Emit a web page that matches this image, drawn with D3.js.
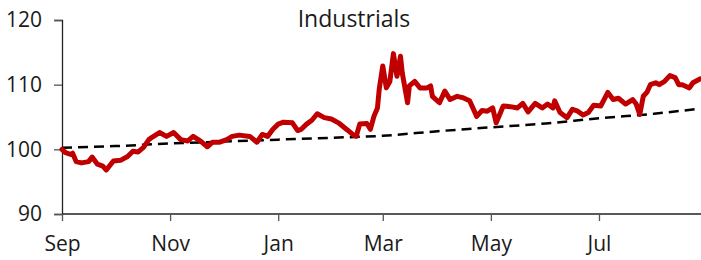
<!DOCTYPE html>
<html>
<head>
<meta charset="utf-8">
<script src="https://cdn.jsdelivr.net/npm/d3@7"></script>
<style>
  body { margin: 0; background: #fff; }
  svg text { font-family: "Open Sans", sans-serif; fill: #1a1a1a; }
</style>
</head>
<body>
<svg width="701" height="260"></svg>
<script>
let svg = d3.select("svg");
let width = +svg.attr("width");
let height = +svg.attr("height");

const title = "Industrials";
const yTicks = [90, 100, 110, 120];
const xTickDates = ["2021-09-01", "2021-11-01", "2022-01-01", "2022-03-01", "2022-05-01", "2022-07-01"];

// red series: sector index
const sectorDates = [
  "2021-09-01", "2021-09-03", "2021-09-06", "2021-09-07", "2021-09-09", "2021-09-12", "2021-09-16", "2021-09-18",
  "2021-09-21", "2021-09-24", "2021-09-26", "2021-09-30", "2021-10-04", "2021-10-08", "2021-10-11", "2021-10-14",
  "2021-10-17", "2021-10-20", "2021-10-22", "2021-10-26", "2021-10-30", "2021-11-03", "2021-11-07", "2021-11-11",
  "2021-11-14", "2021-11-18", "2021-11-22", "2021-11-25", "2021-11-29", "2021-12-03", "2021-12-06", "2021-12-10",
  "2021-12-16", "2021-12-20", "2021-12-23", "2021-12-26", "2021-12-29", "2022-01-01", "2022-01-04", "2022-01-09",
  "2022-01-12", "2022-01-14", "2022-01-17", "2022-01-20", "2022-01-23", "2022-01-27", "2022-01-31", "2022-02-04",
  "2022-02-09", "2022-02-12", "2022-02-14", "2022-02-16", "2022-02-20", "2022-02-22", "2022-02-24", "2022-02-26",
  "2022-02-27", "2022-03-01", "2022-03-03", "2022-03-05", "2022-03-07", "2022-03-09", "2022-03-11", "2022-03-12",
  "2022-03-15", "2022-03-16", "2022-03-19", "2022-03-22", "2022-03-26", "2022-03-28", "2022-03-29", "2022-04-02",
  "2022-04-05", "2022-04-08", "2022-04-12", "2022-04-15", "2022-04-19", "2022-04-23", "2022-04-26", "2022-04-29",
  "2022-05-02", "2022-05-04", "2022-05-08", "2022-05-12", "2022-05-16", "2022-05-19", "2022-05-22", "2022-05-26",
  "2022-05-30", "2022-06-02", "2022-06-05", "2022-06-06", "2022-06-09", "2022-06-13", "2022-06-16", "2022-06-19",
  "2022-06-22", "2022-06-25", "2022-06-28", "2022-07-02", "2022-07-06", "2022-07-09", "2022-07-12", "2022-07-16",
  "2022-07-20", "2022-07-22", "2022-07-24", "2022-07-26", "2022-07-28", "2022-07-30", "2022-08-02", "2022-08-04",
  "2022-08-07", "2022-08-10", "2022-08-13", "2022-08-15", "2022-08-17", "2022-08-21", "2022-08-23", "2022-08-27"
];
const sectorValues = [
  100.0, 99.5, 99.2, 99.4, 98.1, 97.9, 98.1, 98.8,
  97.7, 97.4, 96.8, 98.2, 98.3, 98.9, 99.7, 99.6,
  100.3, 101.5, 101.9, 102.6, 102.0, 102.6, 101.5, 101.3,
  102.0, 101.3, 100.4, 101.1, 101.1, 101.5, 102.0, 102.2,
  102.0, 101.1, 102.3, 102.0, 103.1, 103.9, 104.2, 104.1,
  102.9, 103.1, 103.9, 104.5, 105.5, 104.9, 104.7, 104.1,
  103.0, 102.3, 102.0, 103.9, 104.0, 103.1, 105.1, 106.4,
  109.3, 112.9, 109.5, 110.5, 114.8, 111.3, 114.4, 111.8,
  107.2, 109.8, 110.5, 109.5, 109.5, 109.8, 108.2, 107.2,
  109.0, 107.7, 108.2, 108.0, 107.5, 105.1, 106.0, 105.9,
  106.4, 104.1, 106.7, 106.6, 106.4, 107.1, 105.8, 107.1,
  106.4, 107.0, 106.4, 107.5, 105.7, 104.9, 106.2, 105.9,
  105.3, 105.7, 106.8, 106.7, 108.8, 107.7, 107.9, 107.0,
  107.7, 107.0, 105.4, 108.2, 108.8, 110.0, 110.3, 110.0,
  110.5, 111.4, 111.1, 110.0, 110.0, 109.5, 110.3, 110.9
];

// dashed series: benchmark
const benchDates = [
  "2021-09-01", "2021-10-01", "2021-11-01", "2021-12-01", "2022-01-01", "2022-02-01", "2022-03-01",
  "2022-04-01", "2022-05-01", "2022-06-01", "2022-07-01", "2022-08-01", "2022-08-27"
];
const benchValues = [100.25, 100.5, 100.9, 101.2, 101.5, 101.8, 102.1, 102.8, 103.4, 104.0, 104.8, 105.5, 106.3];

let parse = d3.timeParse("%Y-%m-%d");
let margin = { top: 20, right: 1, bottom: 46, left: 62 };

let x = d3.scaleTime()
  .domain([parse("2021-09-01"), parse("2022-08-27")])
  .range([margin.left, width - margin.right]);
let y = d3.scaleLinear()
  .domain([90, 120])
  .range([height - margin.bottom, margin.top]);

let sector = sectorDates.map((d, i) => ({ date: parse(d), value: sectorValues[i] }));
let bench = benchDates.map((d, i) => ({ date: parse(d), value: benchValues[i] }));

let line = d3.line()
  .x(d => x(d.date))
  .y(d => y(d.value));
let smooth = d3.line()
  .curve(d3.curveMonotoneX)
  .x(d => x(d.date))
  .y(d => y(d.value));

// axes
let yAxis = svg.append("g")
  .attr("transform", `translate(${margin.left},0)`)
  .call(d3.axisLeft(y).tickValues(yTicks).tickSize(8).tickPadding(12));
let xAxis = svg.append("g")
  .attr("transform", `translate(0,${height - margin.bottom})`)
  .call(d3.axisBottom(x).tickValues(xTickDates.map(parse)).tickFormat(d3.timeFormat("%b")).tickSize(7).tickPadding(15));

for (let g of [xAxis, yAxis]) {
  g.select(".domain").attr("stroke", "#222").attr("stroke-width", 1.3);
  g.selectAll(".tick line").attr("stroke", "#555").attr("stroke-width", 1.3);
  g.selectAll("text").style("font-size", "21px").attr("fill", "#1a1a1a");
}
// x axis runs to the right edge
xAxis.select(".domain").attr("d", `M${margin.left},0H${width}`);

svg.append("path")
  .datum(bench)
  .attr("fill", "none")
  .attr("stroke", "#000")
  .attr("stroke-width", 2.5)
  .attr("stroke-dasharray", "10,6")
  .attr("d", smooth);

svg.append("path")
  .datum(sector)
  .attr("fill", "none")
  .attr("stroke", "#c00000")
  .attr("stroke-width", 5)
  .attr("stroke-linejoin", "round")
  .attr("stroke-linecap", "round")
  .attr("d", line);

svg.append("text")
  .attr("x", 354)
  .attr("y", 27)
  .attr("text-anchor", "middle")
  .style("font-size", "23px")
  .text(title);
</script>
</body>
</html>
